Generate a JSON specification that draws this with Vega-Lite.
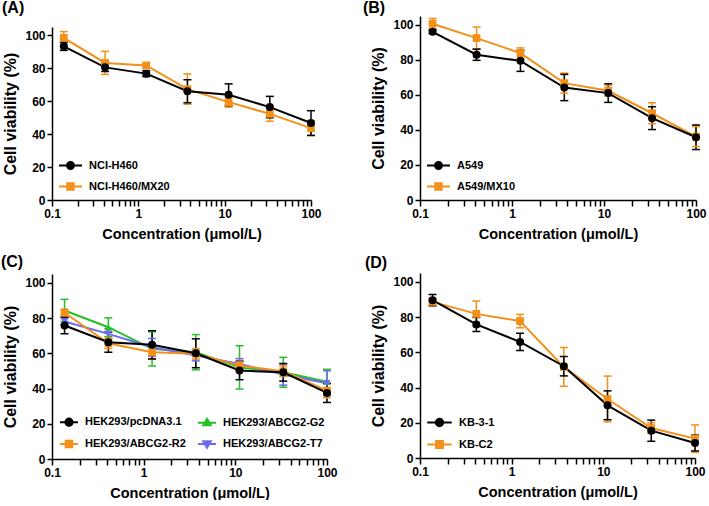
{
  "$schema": "https://vega.github.io/schema/vega-lite/v6.json",
  "background": "white",
  "padding": {"left": 0, "top": 0, "right": 0, "bottom": 0},
  "data": {"values": [
    {"p":"A","s":"NCI-H460/MX20","x":0.137,"y":98.4,"lo":94.6,"hi":102.2},
    {"p":"A","s":"NCI-H460/MX20","x":0.412,"y":83.2,"lo":76.2,"hi":90.2},
    {"p":"A","s":"NCI-H460/MX20","x":1.235,"y":81.7,"lo":80.2,"hi":83.2},
    {"p":"A","s":"NCI-H460/MX20","x":3.704,"y":67.3,"lo":58.1,"hi":76.5},
    {"p":"A","s":"NCI-H460/MX20","x":11.11,"y":59.4,"lo":56.4,"hi":62.4},
    {"p":"A","s":"NCI-H460/MX20","x":33.33,"y":52.3,"lo":47.8,"hi":56.8},
    {"p":"A","s":"NCI-H460/MX20","x":100,"y":43.6,"lo":39.1,"hi":48.1},
    {"p":"A","s":"NCI-H460","x":0.137,"y":93.3,"lo":90.8,"hi":95.8},
    {"p":"A","s":"NCI-H460","x":0.412,"y":80.5,"lo":78.0,"hi":83.0},
    {"p":"A","s":"NCI-H460","x":1.235,"y":76.7,"lo":74.9,"hi":78.5},
    {"p":"A","s":"NCI-H460","x":3.704,"y":66.0,"lo":59.0,"hi":73.0},
    {"p":"A","s":"NCI-H460","x":11.11,"y":63.9,"lo":57.3,"hi":70.5},
    {"p":"A","s":"NCI-H460","x":33.33,"y":56.4,"lo":49.9,"hi":62.9},
    {"p":"A","s":"NCI-H460","x":100,"y":46.7,"lo":39.2,"hi":54.2},

    {"p":"B","s":"A549/MX10","x":0.137,"y":100.6,"lo":97.6,"hi":103.6},
    {"p":"B","s":"A549/MX10","x":0.412,"y":92.4,"lo":86.1,"hi":98.7},
    {"p":"B","s":"A549/MX10","x":1.235,"y":83.8,"lo":80.8,"hi":86.8},
    {"p":"B","s":"A549/MX10","x":3.704,"y":66.7,"lo":61.0,"hi":72.4},
    {"p":"B","s":"A549/MX10","x":11.11,"y":62.3,"lo":59.3,"hi":65.3},
    {"p":"B","s":"A549/MX10","x":33.33,"y":49.5,"lo":43.5,"hi":55.5},
    {"p":"B","s":"A549/MX10","x":100,"y":36.2,"lo":30.5,"hi":41.9},
    {"p":"B","s":"A549","x":0.137,"y":96.0,"lo":95.0,"hi":97.0},
    {"p":"B","s":"A549","x":0.412,"y":82.9,"lo":79.7,"hi":86.1},
    {"p":"B","s":"A549","x":1.235,"y":79.4,"lo":73.4,"hi":85.4},
    {"p":"B","s":"A549","x":3.704,"y":64.2,"lo":56.7,"hi":71.7},
    {"p":"B","s":"A549","x":11.11,"y":61.0,"lo":55.7,"hi":66.3},
    {"p":"B","s":"A549","x":33.33,"y":46.7,"lo":40.2,"hi":53.2},
    {"p":"B","s":"A549","x":100,"y":35.8,"lo":28.8,"hi":42.8},

    {"p":"C","s":"HEK293/ABCG2-G2","x":0.137,"y":84.3,"lo":78.0,"hi":90.6},
    {"p":"C","s":"HEK293/ABCG2-G2","x":0.412,"y":74.8,"lo":69.5,"hi":80.1},
    {"p":"C","s":"HEK293/ABCG2-G2","x":1.235,"y":62.5,"lo":52.8,"hi":72.2},
    {"p":"C","s":"HEK293/ABCG2-G2","x":3.704,"y":60.6,"lo":50.6,"hi":70.6},
    {"p":"C","s":"HEK293/ABCG2-G2","x":11.11,"y":52.0,"lo":39.7,"hi":64.3},
    {"p":"C","s":"HEK293/ABCG2-G2","x":33.33,"y":49.2,"lo":40.7,"hi":57.7},
    {"p":"C","s":"HEK293/ABCG2-G2","x":100,"y":43.9,"lo":36.9,"hi":50.9},
    {"p":"C","s":"HEK293/ABCG2-T7","x":0.137,"y":78.0,"lo":76.0,"hi":80.0},
    {"p":"C","s":"HEK293/ABCG2-T7","x":0.412,"y":71.0,"lo":68.0,"hi":74.0},
    {"p":"C","s":"HEK293/ABCG2-T7","x":1.235,"y":63.4,"lo":58.4,"hi":68.4},
    {"p":"C","s":"HEK293/ABCG2-T7","x":3.704,"y":58.7,"lo":55.7,"hi":61.7},
    {"p":"C","s":"HEK293/ABCG2-T7","x":11.11,"y":54.0,"lo":51.0,"hi":57.0},
    {"p":"C","s":"HEK293/ABCG2-T7","x":33.33,"y":47.9,"lo":41.9,"hi":53.9},
    {"p":"C","s":"HEK293/ABCG2-T7","x":100,"y":43.0,"lo":36.0,"hi":50.0},
    {"p":"C","s":"HEK293/ABCG2-R2","x":0.137,"y":83.0,"lo":81.0,"hi":85.0},
    {"p":"C","s":"HEK293/ABCG2-R2","x":0.412,"y":65.7,"lo":62.7,"hi":68.7},
    {"p":"C","s":"HEK293/ABCG2-R2","x":1.235,"y":60.6,"lo":56.6,"hi":64.6},
    {"p":"C","s":"HEK293/ABCG2-R2","x":3.704,"y":59.7,"lo":56.7,"hi":62.7},
    {"p":"C","s":"HEK293/ABCG2-R2","x":11.11,"y":53.0,"lo":50.0,"hi":56.0},
    {"p":"C","s":"HEK293/ABCG2-R2","x":33.33,"y":49.8,"lo":46.8,"hi":52.8},
    {"p":"C","s":"HEK293/ABCG2-R2","x":100,"y":38.8,"lo":34.8,"hi":42.8},
    {"p":"C","s":"HEK293/pcDNA3.1","x":0.137,"y":75.8,"lo":71.1,"hi":80.5},
    {"p":"C","s":"HEK293/pcDNA3.1","x":0.412,"y":66.3,"lo":60.6,"hi":72.0},
    {"p":"C","s":"HEK293/pcDNA3.1","x":1.235,"y":64.8,"lo":56.8,"hi":72.8},
    {"p":"C","s":"HEK293/pcDNA3.1","x":3.704,"y":60.0,"lo":51.8,"hi":68.2},
    {"p":"C","s":"HEK293/pcDNA3.1","x":11.11,"y":50.2,"lo":45.0,"hi":55.4},
    {"p":"C","s":"HEK293/pcDNA3.1","x":33.33,"y":49.2,"lo":44.2,"hi":54.2},
    {"p":"C","s":"HEK293/pcDNA3.1","x":100,"y":37.5,"lo":32.1,"hi":42.9},

    {"p":"D","s":"KB-C2","x":0.137,"y":88.6,"lo":86.6,"hi":90.6},
    {"p":"D","s":"KB-C2","x":0.412,"y":81.8,"lo":74.5,"hi":89.1},
    {"p":"D","s":"KB-C2","x":1.235,"y":77.7,"lo":73.9,"hi":81.5},
    {"p":"D","s":"KB-C2","x":3.704,"y":51.7,"lo":40.7,"hi":62.7},
    {"p":"D","s":"KB-C2","x":11.11,"y":33.5,"lo":20.5,"hi":46.5},
    {"p":"D","s":"KB-C2","x":33.33,"y":17.0,"lo":14.0,"hi":20.0},
    {"p":"D","s":"KB-C2","x":100,"y":11.0,"lo":3.2,"hi":18.8},
    {"p":"D","s":"KB-3-1","x":0.137,"y":89.6,"lo":86.4,"hi":92.8},
    {"p":"D","s":"KB-3-1","x":0.412,"y":75.8,"lo":71.8,"hi":79.8},
    {"p":"D","s":"KB-3-1","x":1.235,"y":65.9,"lo":61.0,"hi":70.8},
    {"p":"D","s":"KB-3-1","x":3.704,"y":52.1,"lo":46.6,"hi":57.6},
    {"p":"D","s":"KB-3-1","x":11.11,"y":29.9,"lo":21.7,"hi":38.1},
    {"p":"D","s":"KB-3-1","x":33.33,"y":15.5,"lo":9.5,"hi":21.5},
    {"p":"D","s":"KB-3-1","x":100,"y":8.5,"lo":4.0,"hi":13.0}
  ]},
  "spacing": 24,
  "resolve": {"scale": {"color": "independent", "x": "independent", "y": "independent"}, "legend": {"color": "independent"}},
  "hconcat": [
  {"spacing": 13,
   "resolve": {"scale": {"color": "independent", "x": "independent", "y": "independent"}, "legend": {"color": "independent"}},
   "vconcat": [
    {"spacing": 0,
     "resolve": {"scale": {"color": "independent", "x": "independent", "y": "independent"}, "legend": {"color": "independent"}},
     "vconcat": [
      {"title": {"text": "(A)", "offset": 0, "frame": "group", "dx": -50},
       "width": 259, "height": 11,
       "data": {"values": []},
       "mark": {"type": "point", "opacity": 0}},
      {
      "width": 259, "height": 173,
      "transform": [{"filter": "datum.p === 'A'"}],
      "encoding": {
        "x": {"field": "x", "type": "quantitative", "title": "Concentration (μmol/L)",
          "scale": {"type": "log", "domain": [0.1, 100], "nice": false},
          "axis": {"values": [0.1,0.2,0.3,0.4,0.5,0.6,0.7,0.8,0.9,1,2,3,4,5,6,7,8,9,10,20,30,40,50,60,70,80,90,100],
            "labelExpr": "datum.value == 0.1 ? '0.1' : datum.value == 1 ? '1' : datum.value == 10 ? '10' : datum.value == 100 ? '100' : ''",
            "tickSize": 6, "labelPadding": 2, "titlePadding": 8, "labelOverlap": false, "labelFlush": false,
            "encode": {"ticks": {"update": {"y2": {"signal": "(datum.value == 0.1 || datum.value == 1 || datum.value == 10 || datum.value == 100) ? 6 : 3"}}}}}},
        "color": {"field": "s", "type": "nominal",
          "scale": {"domain": ["NCI-H460", "NCI-H460/MX20"], "range": ["#000000", "#F39019"]},
          "legend": {"title": null, "orient": "bottom-left", "offset": 6, "direction": "vertical",
            "labelFontSize": 11, "labelFontWeight": "bold", "labelColor": "#000", "labelOffset": 6,
            "symbolSize": 529, "rowPadding": 1,
            "encode": {"symbols": {"update": {
              "shape": {"signal": "datum.value === 'NCI-H460' ? 'M-1,0H1M-0.3,0A0.3,0.3,0,1,1,0.3,0A0.3,0.3,0,1,1,-0.3,0Z' : 'M-1,0H1M-0.28,-0.28H0.28V0.28H-0.28Z'"},
              "size": {"value": 529},
              "fill": {"signal": "datum.value === 'NCI-H460' ? '#000000' : '#F39019'"},
              "stroke": {"signal": "datum.value === 'NCI-H460' ? '#000000' : '#F39019'"},
              "strokeWidth": {"value": 2}, "opacity": {"value": 1}}}}}}
      },
      "layer": [
        {"mark": {"type": "rule", "strokeWidth": 1.5},
         "encoding": {"y": {"field": "lo", "type": "quantitative", "title": "Cell viability (%)", "scale": {"domain": [0, 105], "nice": false}, "axis": {"values": [0,20,40,60,80,100], "tickSize": 5, "labelPadding": 2, "titlePadding": 6}}, "y2": {"field": "hi"}}},
        {"mark": {"type": "tick", "orient": "horizontal", "size": 8, "thickness": 1.5, "opacity": 1},
         "encoding": {"y": {"field": "lo", "type": "quantitative", "title": "Cell viability (%)", "scale": {"domain": [0, 105], "nice": false}, "axis": {"values": [0,20,40,60,80,100], "tickSize": 5, "labelPadding": 2, "titlePadding": 6}}}},
        {"mark": {"type": "tick", "orient": "horizontal", "size": 8, "thickness": 1.5, "opacity": 1},
         "encoding": {"y": {"field": "hi", "type": "quantitative", "title": "Cell viability (%)", "scale": {"domain": [0, 105], "nice": false}, "axis": {"values": [0,20,40,60,80,100], "tickSize": 5, "labelPadding": 2, "titlePadding": 6}}}},
        {"mark": {"type": "line", "strokeWidth": 2},
         "encoding": {"y": {"field": "y", "type": "quantitative", "title": "Cell viability (%)", "scale": {"domain": [0, 105], "nice": false}, "axis": {"values": [0,20,40,60,80,100], "tickSize": 5, "labelPadding": 2, "titlePadding": 6}}}},
        {"transform": [{"filter": "datum.s === 'NCI-H460/MX20'"}],
         "mark": {"type": "point", "shape": "square", "filled": true, "size": 60, "opacity": 1},
         "encoding": {"y": {"field": "y", "type": "quantitative", "title": "Cell viability (%)", "scale": {"domain": [0, 105], "nice": false}, "axis": {"values": [0,20,40,60,80,100], "tickSize": 5, "labelPadding": 2, "titlePadding": 6}}}},
        {"transform": [{"filter": "datum.s === 'NCI-H460'"}],
         "mark": {"type": "point", "shape": "circle", "filled": true, "size": 64, "opacity": 1},
         "encoding": {"y": {"field": "y", "type": "quantitative", "title": "Cell viability (%)", "scale": {"domain": [0, 105], "nice": false}, "axis": {"values": [0,20,40,60,80,100], "tickSize": 5, "labelPadding": 2, "titlePadding": 6}}}}
      ]
      }
     ]},
    {
      "title": {"text": "(C)", "offset": 4, "dx": -2},
      "width": 275, "height": 185,
      "transform": [{"filter": "datum.p === 'C'"}],
      "encoding": {
        "x": {"field": "x", "type": "quantitative", "title": "Concentration (μmol/L)",
          "scale": {"type": "log", "domain": [0.1, 100], "nice": false},
          "axis": {"values": [0.1,0.2,0.3,0.4,0.5,0.6,0.7,0.8,0.9,1,2,3,4,5,6,7,8,9,10,20,30,40,50,60,70,80,90,100],
            "labelExpr": "datum.value == 0.1 ? '0.1' : datum.value == 1 ? '1' : datum.value == 10 ? '10' : datum.value == 100 ? '100' : ''",
            "tickSize": 6, "labelPadding": 2, "titlePadding": 8, "labelOverlap": false, "labelFlush": false,
            "encode": {"ticks": {"update": {"y2": {"signal": "(datum.value == 0.1 || datum.value == 1 || datum.value == 10 || datum.value == 100) ? 6 : 3"}}}}}},
        "color": {"field": "s", "type": "nominal",
          "scale": {"domain": ["HEK293/pcDNA3.1", "HEK293/ABCG2-G2", "HEK293/ABCG2-R2", "HEK293/ABCG2-T7"], "range": ["#000000", "#27BE27", "#F39019", "#6B6BF2"]},
          "legend": {"title": null, "orient": "bottom-left", "offset": 7, "direction": "horizontal", "columns": 2,
            "labelFontSize": 11, "labelFontWeight": "bold", "labelColor": "#000", "labelOffset": 6,
            "symbolSize": 324, "rowPadding": 4, "columnPadding": 8,
            "encode": {"symbols": {"update": {
              "shape": {"signal": "datum.value === 'HEK293/pcDNA3.1' ? 'M-1,0H1M-0.4,0A0.4,0.4,0,1,1,0.4,0A0.4,0.4,0,1,1,-0.4,0Z' : datum.value === 'HEK293/ABCG2-G2' ? 'M-1,0H1M0,-0.42L0.42,0.3H-0.42Z' : datum.value === 'HEK293/ABCG2-R2' ? 'M-1,0H1M-0.36,-0.36H0.36V0.36H-0.36Z' : 'M-1,0H1M0,0.42L0.42,-0.3H-0.42Z'"},
              "size": {"value": 324},
              "fill": {"signal": "datum.value === 'HEK293/pcDNA3.1' ? '#000000' : datum.value === 'HEK293/ABCG2-G2' ? '#27BE27' : datum.value === 'HEK293/ABCG2-R2' ? '#F39019' : '#6B6BF2'"},
              "stroke": {"signal": "datum.value === 'HEK293/pcDNA3.1' ? '#000000' : datum.value === 'HEK293/ABCG2-G2' ? '#27BE27' : datum.value === 'HEK293/ABCG2-R2' ? '#F39019' : '#6B6BF2'"},
              "strokeWidth": {"value": 2}, "opacity": {"value": 1}}}}}}
      },
      "layer": [
        {"mark": {"type": "rule", "strokeWidth": 1.5},
         "encoding": {"y": {"field": "lo", "type": "quantitative", "title": "Cell viability (%)", "scale": {"domain": [0, 105], "nice": false}, "axis": {"values": [0,20,40,60,80,100], "tickSize": 5, "labelPadding": 2, "titlePadding": 6}}, "y2": {"field": "hi"}}},
        {"mark": {"type": "tick", "orient": "horizontal", "size": 8, "thickness": 1.5, "opacity": 1},
         "encoding": {"y": {"field": "lo", "type": "quantitative", "title": "Cell viability (%)", "scale": {"domain": [0, 105], "nice": false}, "axis": {"values": [0,20,40,60,80,100], "tickSize": 5, "labelPadding": 2, "titlePadding": 6}}}},
        {"mark": {"type": "tick", "orient": "horizontal", "size": 8, "thickness": 1.5, "opacity": 1},
         "encoding": {"y": {"field": "hi", "type": "quantitative", "title": "Cell viability (%)", "scale": {"domain": [0, 105], "nice": false}, "axis": {"values": [0,20,40,60,80,100], "tickSize": 5, "labelPadding": 2, "titlePadding": 6}}}},
        {"mark": {"type": "line", "strokeWidth": 2},
         "encoding": {"y": {"field": "y", "type": "quantitative", "title": "Cell viability (%)", "scale": {"domain": [0, 105], "nice": false}, "axis": {"values": [0,20,40,60,80,100], "tickSize": 5, "labelPadding": 2, "titlePadding": 6}}}},
        {"transform": [{"filter": "datum.s === 'HEK293/ABCG2-G2'"}],
         "mark": {"type": "point", "shape": "triangle-up", "filled": true, "size": 55, "opacity": 1},
         "encoding": {"y": {"field": "y", "type": "quantitative", "title": "Cell viability (%)", "scale": {"domain": [0, 105], "nice": false}, "axis": {"values": [0,20,40,60,80,100], "tickSize": 5, "labelPadding": 2, "titlePadding": 6}}}},
        {"transform": [{"filter": "datum.s === 'HEK293/ABCG2-T7'"}],
         "mark": {"type": "point", "shape": "triangle-down", "filled": true, "size": 55, "opacity": 1},
         "encoding": {"y": {"field": "y", "type": "quantitative", "title": "Cell viability (%)", "scale": {"domain": [0, 105], "nice": false}, "axis": {"values": [0,20,40,60,80,100], "tickSize": 5, "labelPadding": 2, "titlePadding": 6}}}},
        {"transform": [{"filter": "datum.s === 'HEK293/ABCG2-R2'"}],
         "mark": {"type": "point", "shape": "square", "filled": true, "size": 60, "opacity": 1},
         "encoding": {"y": {"field": "y", "type": "quantitative", "title": "Cell viability (%)", "scale": {"domain": [0, 105], "nice": false}, "axis": {"values": [0,20,40,60,80,100], "tickSize": 5, "labelPadding": 2, "titlePadding": 6}}}},
        {"transform": [{"filter": "datum.s === 'HEK293/pcDNA3.1'"}],
         "mark": {"type": "point", "shape": "circle", "filled": true, "size": 64, "opacity": 1},
         "encoding": {"y": {"field": "y", "type": "quantitative", "title": "Cell viability (%)", "scale": {"domain": [0, 105], "nice": false}, "axis": {"values": [0,20,40,60,80,100], "tickSize": 5, "labelPadding": 2, "titlePadding": 6}}}}
      ]
    }
   ]},
  {"spacing": 14,
   "resolve": {"scale": {"color": "independent", "x": "independent", "y": "independent"}, "legend": {"color": "independent"}},
   "vconcat": [
    {
      "title": {"text": "(B)", "offset": 0, "dx": -8},
      "width": 276, "height": 184,
      "transform": [{"filter": "datum.p === 'B'"}],
      "encoding": {
        "x": {"field": "x", "type": "quantitative", "title": "Concentration (μmol/L)",
          "scale": {"type": "log", "domain": [0.1, 100], "nice": false},
          "axis": {"values": [0.1,0.2,0.3,0.4,0.5,0.6,0.7,0.8,0.9,1,2,3,4,5,6,7,8,9,10,20,30,40,50,60,70,80,90,100],
            "labelExpr": "datum.value == 0.1 ? '0.1' : datum.value == 1 ? '1' : datum.value == 10 ? '10' : datum.value == 100 ? '100' : ''",
            "tickSize": 6, "labelPadding": 2, "titlePadding": 8, "labelOverlap": false, "labelFlush": false,
            "encode": {"ticks": {"update": {"y2": {"signal": "(datum.value == 0.1 || datum.value == 1 || datum.value == 10 || datum.value == 100) ? 6 : 3"}}}}}},
        "color": {"field": "s", "type": "nominal",
          "scale": {"domain": ["A549", "A549/MX10"], "range": ["#000000", "#F39019"]},
          "legend": {"title": null, "orient": "bottom-left", "offset": 6, "direction": "vertical",
            "labelFontSize": 11, "labelFontWeight": "bold", "labelColor": "#000", "labelOffset": 6,
            "symbolSize": 529, "rowPadding": 1,
            "encode": {"symbols": {"update": {
              "shape": {"signal": "datum.value === 'A549' ? 'M-1,0H1M-0.3,0A0.3,0.3,0,1,1,0.3,0A0.3,0.3,0,1,1,-0.3,0Z' : 'M-1,0H1M-0.28,-0.28H0.28V0.28H-0.28Z'"},
              "size": {"value": 529},
              "fill": {"signal": "datum.value === 'A549' ? '#000000' : '#F39019'"},
              "stroke": {"signal": "datum.value === 'A549' ? '#000000' : '#F39019'"},
              "strokeWidth": {"value": 2}, "opacity": {"value": 1}}}}}}
      },
      "layer": [
        {"mark": {"type": "rule", "strokeWidth": 1.5},
         "encoding": {"y": {"field": "lo", "type": "quantitative", "title": "Cell viability (%)", "scale": {"domain": [0, 105], "nice": false}, "axis": {"values": [0,20,40,60,80,100], "tickSize": 5, "labelPadding": 2, "titlePadding": 6}}, "y2": {"field": "hi"}}},
        {"mark": {"type": "tick", "orient": "horizontal", "size": 8, "thickness": 1.5, "opacity": 1},
         "encoding": {"y": {"field": "lo", "type": "quantitative", "title": "Cell viability (%)", "scale": {"domain": [0, 105], "nice": false}, "axis": {"values": [0,20,40,60,80,100], "tickSize": 5, "labelPadding": 2, "titlePadding": 6}}}},
        {"mark": {"type": "tick", "orient": "horizontal", "size": 8, "thickness": 1.5, "opacity": 1},
         "encoding": {"y": {"field": "hi", "type": "quantitative", "title": "Cell viability (%)", "scale": {"domain": [0, 105], "nice": false}, "axis": {"values": [0,20,40,60,80,100], "tickSize": 5, "labelPadding": 2, "titlePadding": 6}}}},
        {"mark": {"type": "line", "strokeWidth": 2},
         "encoding": {"y": {"field": "y", "type": "quantitative", "title": "Cell viability (%)", "scale": {"domain": [0, 105], "nice": false}, "axis": {"values": [0,20,40,60,80,100], "tickSize": 5, "labelPadding": 2, "titlePadding": 6}}}},
        {"transform": [{"filter": "datum.s === 'A549/MX10'"}],
         "mark": {"type": "point", "shape": "square", "filled": true, "size": 60, "opacity": 1},
         "encoding": {"y": {"field": "y", "type": "quantitative", "title": "Cell viability (%)", "scale": {"domain": [0, 105], "nice": false}, "axis": {"values": [0,20,40,60,80,100], "tickSize": 5, "labelPadding": 2, "titlePadding": 6}}}},
        {"transform": [{"filter": "datum.s === 'A549'"}],
         "mark": {"type": "point", "shape": "circle", "filled": true, "size": 64, "opacity": 1},
         "encoding": {"y": {"field": "y", "type": "quantitative", "title": "Cell viability (%)", "scale": {"domain": [0, 105], "nice": false}, "axis": {"values": [0,20,40,60,80,100], "tickSize": 5, "labelPadding": 2, "titlePadding": 6}}}}
      ]
    },
    {
      "title": {"text": "(D)", "offset": 2, "dx": -6},
      "width": 275, "height": 185,
      "transform": [{"filter": "datum.p === 'D'"}],
      "encoding": {
        "x": {"field": "x", "type": "quantitative", "title": "Concentration (μmol/L)",
          "scale": {"type": "log", "domain": [0.1, 100], "nice": false},
          "axis": {"values": [0.1,0.2,0.3,0.4,0.5,0.6,0.7,0.8,0.9,1,2,3,4,5,6,7,8,9,10,20,30,40,50,60,70,80,90,100],
            "labelExpr": "datum.value == 0.1 ? '0.1' : datum.value == 1 ? '1' : datum.value == 10 ? '10' : datum.value == 100 ? '100' : ''",
            "tickSize": 6, "labelPadding": 2, "titlePadding": 8, "labelOverlap": false, "labelFlush": false,
            "encode": {"ticks": {"update": {"y2": {"signal": "(datum.value == 0.1 || datum.value == 1 || datum.value == 10 || datum.value == 100) ? 6 : 3"}}}}}},
        "color": {"field": "s", "type": "nominal",
          "scale": {"domain": ["KB-3-1", "KB-C2"], "range": ["#000000", "#F39019"]},
          "legend": {"title": null, "orient": "bottom-left", "offset": 6, "direction": "vertical",
            "labelFontSize": 11, "labelFontWeight": "bold", "labelColor": "#000", "labelOffset": 6,
            "symbolSize": 361, "rowPadding": 0,
            "encode": {"symbols": {"update": {
              "shape": {"signal": "datum.value === 'KB-3-1' ? 'M-1,0H1M-0.3,0A0.3,0.3,0,1,1,0.3,0A0.3,0.3,0,1,1,-0.3,0Z' : 'M-1,0H1M-0.28,-0.28H0.28V0.28H-0.28Z'"},
              "size": {"value": 600},
              "fill": {"signal": "datum.value === 'KB-3-1' ? '#000000' : '#F39019'"},
              "stroke": {"signal": "datum.value === 'KB-3-1' ? '#000000' : '#F39019'"},
              "strokeWidth": {"value": 2}, "opacity": {"value": 1}}}}}}
      },
      "layer": [
        {"mark": {"type": "rule", "strokeWidth": 1.5},
         "encoding": {"y": {"field": "lo", "type": "quantitative", "title": "Cell viability (%)", "scale": {"domain": [0, 105], "nice": false}, "axis": {"values": [0,20,40,60,80,100], "tickSize": 5, "labelPadding": 2, "titlePadding": 6}}, "y2": {"field": "hi"}}},
        {"mark": {"type": "tick", "orient": "horizontal", "size": 8, "thickness": 1.5, "opacity": 1},
         "encoding": {"y": {"field": "lo", "type": "quantitative", "title": "Cell viability (%)", "scale": {"domain": [0, 105], "nice": false}, "axis": {"values": [0,20,40,60,80,100], "tickSize": 5, "labelPadding": 2, "titlePadding": 6}}}},
        {"mark": {"type": "tick", "orient": "horizontal", "size": 8, "thickness": 1.5, "opacity": 1},
         "encoding": {"y": {"field": "hi", "type": "quantitative", "title": "Cell viability (%)", "scale": {"domain": [0, 105], "nice": false}, "axis": {"values": [0,20,40,60,80,100], "tickSize": 5, "labelPadding": 2, "titlePadding": 6}}}},
        {"mark": {"type": "line", "strokeWidth": 2},
         "encoding": {"y": {"field": "y", "type": "quantitative", "title": "Cell viability (%)", "scale": {"domain": [0, 105], "nice": false}, "axis": {"values": [0,20,40,60,80,100], "tickSize": 5, "labelPadding": 2, "titlePadding": 6}}}},
        {"transform": [{"filter": "datum.s === 'KB-C2'"}],
         "mark": {"type": "point", "shape": "square", "filled": true, "size": 60, "opacity": 1},
         "encoding": {"y": {"field": "y", "type": "quantitative", "title": "Cell viability (%)", "scale": {"domain": [0, 105], "nice": false}, "axis": {"values": [0,20,40,60,80,100], "tickSize": 5, "labelPadding": 2, "titlePadding": 6}}}},
        {"transform": [{"filter": "datum.s === 'KB-3-1'"}],
         "mark": {"type": "point", "shape": "circle", "filled": true, "size": 64, "opacity": 1},
         "encoding": {"y": {"field": "y", "type": "quantitative", "title": "Cell viability (%)", "scale": {"domain": [0, 105], "nice": false}, "axis": {"values": [0,20,40,60,80,100], "tickSize": 5, "labelPadding": 2, "titlePadding": 6}}}}
      ]
    }
   ]}
  ],
  "config": {
    "font": "Liberation Sans",
    "view": {"stroke": null},
    "axis": {"domainColor": "#000", "domainWidth": 1.5, "tickColor": "#000", "tickWidth": 1.5,
      "labelColor": "#000", "labelFont": "Liberation Sans", "labelFontSize": 12, "labelFontWeight": "bold",
      "titleColor": "#000", "titleFont": "Liberation Sans", "titleFontSize": 14.5, "titleFontWeight": "bold", "grid": false},
    "axisY": {"titleFontSize": 16},
    "title": {"font": "Liberation Sans", "fontSize": 16, "fontWeight": "bold", "anchor": "start", "frame": "bounds", "color": "#000"},
    "legend": {"labelFont": "Liberation Sans"}
  }
}
